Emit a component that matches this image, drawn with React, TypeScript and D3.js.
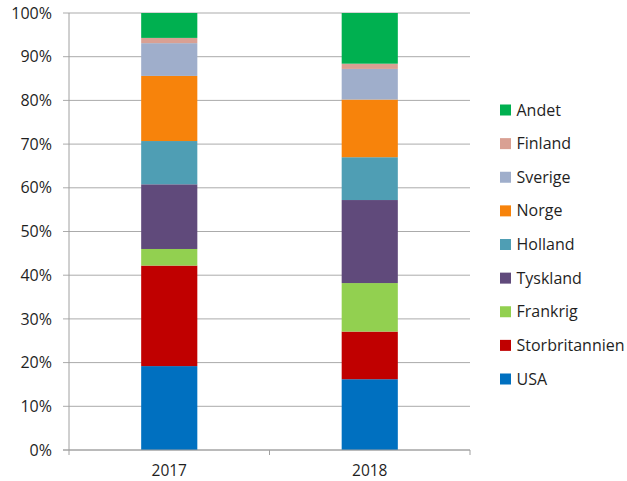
import * as d3 from "d3";

const years = ["2017", "2018"];
const countries = ["USA", "Storbritannien", "Frankrig", "Tyskland", "Holland", "Norge", "Sverige", "Finland", "Andet"];
const colors = ["#0070C0", "#C00000", "#92D050", "#604A7B", "#4F9EB4", "#F7830B", "#9FAECB", "#D9A093", "#00B050"];
// share per country, order as countries
const values2017 = [19.2, 23.0, 3.8, 14.8, 9.9, 14.9, 7.5, 1.2, 5.7];
const values2018 = [16.2, 10.9, 11.1, 19.0, 9.8, 13.2, 7.0, 1.2, 11.6];
const yTicks = [0, 10, 20, 30, 40, 50, 60, 70, 80, 90, 100];

const W = 627;
const H = 481;
const font = "'Open Sans', Lato, sans-serif";

export default function App() {
  const rows = [values2017, values2018].map((vals, i) => {
    const r: Record<string, number | string> = { year: years[i] };
    countries.forEach((c, j) => (r[c] = vals[j]));
    return r;
  });
  const series = d3.stack<Record<string, number | string>>().keys(countries)(rows as any);

  const x = d3.scaleBand().domain(years).range([69, 470]).paddingInner(0.72).paddingOuter(0.36);
  const y = d3.scaleLinear().domain([0, 100]).range([450, 13]);
  const catEdges = [69, 269.5, 470];
  const legendY = d3.scalePoint().domain([...countries].reverse()).range([110, 379]);

  return (
    <svg width={W} height={H} style={{ position: "absolute", left: 0, top: 0, background: "#fff" }} fontFamily={font}>
      {/* grid */}
      {yTicks.map((t) => (
        <g key={t}>
          <line x1={63} x2={470} y1={y(t)} y2={y(t)} stroke="#ABABAB" strokeWidth={1} />
          <text x={52} y={y(t)} dy="0.35em" textAnchor="end" fontSize={16} fill="#1F1F1F">
            {t}%
          </text>
        </g>
      ))}
      <line x1={69} x2={69} y1={y(100)} y2={y(0)} stroke="#A0A0A0" />
      {catEdges.map((e) => (
        <line key={e} x1={e} x2={e} y1={450} y2={455} stroke="#A0A0A0" />
      ))}
      {/* bars */}
      {series.map((s, i) => (
        <g key={s.key} fill={colors[i]}>
          {s.map((d) => (
            <rect
              key={String(d.data.year)}
              x={x(String(d.data.year))}
              width={x.bandwidth()}
              y={y(d[1])}
              height={y(d[0]) - y(d[1])}
            />
          ))}
        </g>
      ))}
      <line x1={63} x2={470} y1={450} y2={450} stroke="#A0A0A0" />
      {years.map((yr) => (
        <text key={yr} x={(x(yr) ?? 0) + x.bandwidth() / 2} y={470.5} dy="0.35em" textAnchor="middle" fontSize={15.5} fill="#1F1F1F">
          {yr}
        </text>
      ))}
      {/* legend */}
      {countries.map((c, i) => (
        <g key={c} transform={`translate(500,${legendY(c)})`}>
          <rect x={0} y={-5.5} width={11} height={11} fill={colors[i]} />
          <text x={16.5} y={0} dy="0.35em" fontSize={16} fill="#1F1F1F">
            {c}
          </text>
        </g>
      ))}
    </svg>
  );
}
